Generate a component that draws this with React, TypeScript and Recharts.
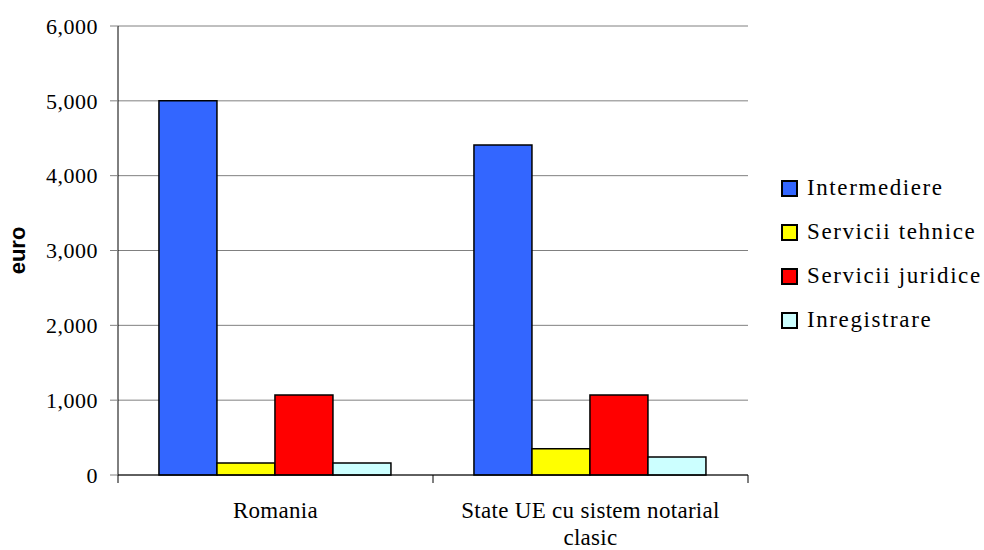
import React from "react";
import {
  BarChart,
  Bar,
  XAxis,
  YAxis,
  CartesianGrid,
  Legend,
} from "recharts";

const categories = ["Romania", "State UE cu sistem notarial clasic"];
// category labels as they break over lines under the axis
const categoryLines = [["Romania"], ["State UE cu sistem notarial", "clasic"]];
const seriesNames = ["Intermediere", "Servicii tehnice", "Servicii juridice", "Inregistrare"];
const intermediere = [5000, 4410];
const serviciiTehnice = [160, 350];
const serviciiJuridice = [1070, 1070];
const inregistrare = [160, 240];
const yTicks = [0, 1000, 2000, 3000, 4000, 5000, 6000];

const SERIF = "Liberation Serif, DejaVu Serif, serif";
const TICK_SIZE = 8;
const X_TICK_MARGIN = 18;

const data = categories.map((name, i) => ({
  name,
  intermediere: intermediere[i],
  serviciiTehnice: serviciiTehnice[i],
  serviciiJuridice: serviciiJuridice[i],
  inregistrare: inregistrare[i],
}));

// category label plus the boundary tick marks between categories
const CategoryTick = (props: any) => {
  const { x, y, payload, index, visibleTicksCount } = props;
  const half = payload.offset ?? 157.5;
  const axisY = y - X_TICK_MARGIN - TICK_SIZE;
  const lines = categoryLines[categories.indexOf(payload.value)] ?? [payload.value];
  return (
    <g>
      <line x1={x - half} x2={x - half} y1={axisY} y2={axisY + TICK_SIZE} stroke="#000" />
      {index === visibleTicksCount - 1 && (
        <line x1={x + half} x2={x + half} y1={axisY} y2={axisY + TICK_SIZE} stroke="#000" />
      )}
      <text
        x={x}
        y={y + 17}
        textAnchor="middle"
        fontFamily={SERIF}
        fontSize={23}
        letterSpacing={0.3}
        fill="#000"
      >
        {lines.map((line: string, i: number) => (
          <tspan key={i} x={x} dy={i === 0 ? 0 : 27}>
            {line}
          </tspan>
        ))}
      </text>
    </g>
  );
};

const LegendBox = ({ payload }: any) => (
  <div
    style={{
      fontFamily: SERIF,
      fontSize: 23,
      letterSpacing: 1.6,
      color: "#000",
      whiteSpace: "nowrap",
    }}
  >
    {payload.map((item: any) => (
      <div
        key={item.value}
        style={{ display: "flex", alignItems: "center", height: 44 }}
      >
        <span
          style={{
            display: "inline-block",
            flexShrink: 0,
            width: 13,
            height: 13,
            background: item.color,
            border: "2px solid #000",
            marginRight: 9,
          }}
        />
        <span>{item.value}</span>
      </div>
    ))}
  </div>
);

export default function App() {
  return (
    <div style={{ position: "absolute", left: 0, top: 0, background: "#fff" }}>
      <BarChart
        width={984}
        height={550}
        data={data}
        margin={{ top: 26, right: 236, left: 0, bottom: 0 }}
        barCategoryGap="13%"
        barGap={0}
      >
        <CartesianGrid vertical={false} stroke="#808080" />
        <XAxis
          dataKey="name"
          height={75}
          stroke="#000"
          tickLine={false}
          tickSize={TICK_SIZE}
          tickMargin={X_TICK_MARGIN}
          interval={0}
          tick={<CategoryTick />}
        />
        <YAxis
          width={118}
          domain={[0, 6000]}
          ticks={yTicks}
          stroke="#000"
          tickSize={TICK_SIZE}
          tickMargin={12}
          tickLine={{ stroke: "#808080" }}
          tick={{ fontFamily: SERIF, fontSize: 22, letterSpacing: 0.5, fill: "#000" }}
          tickFormatter={(v: number) => v.toLocaleString("en-US")}
          label={{
            value: "euro",
            angle: -90,
            position: "center",
            dx: -42,
            style: {
              fontFamily: "Liberation Sans, Arial, sans-serif",
              fontWeight: "bold",
              fontSize: 22,
              fill: "#000",
            },
          }}
        />
        <Legend
          layout="vertical"
          align="center"
          verticalAlign="middle"
          itemSorter={(item: any) => seriesNames.indexOf(item.value)}
          content={<LegendBox />}
          wrapperStyle={{ left: 781, top: 166, width: 203 }}
        />
        <Bar dataKey="intermediere" name={seriesNames[0]} fill="#3366FF" stroke="#000" strokeWidth={1.5} isAnimationActive={false} />
        <Bar dataKey="serviciiTehnice" name={seriesNames[1]} fill="#FFFF00" stroke="#000" strokeWidth={1.5} isAnimationActive={false} />
        <Bar dataKey="serviciiJuridice" name={seriesNames[2]} fill="#FF0000" stroke="#000" strokeWidth={1.5} isAnimationActive={false} />
        <Bar dataKey="inregistrare" name={seriesNames[3]} fill="#CCFFFF" stroke="#000" strokeWidth={1.5} isAnimationActive={false} />
      </BarChart>
    </div>
  );
}
